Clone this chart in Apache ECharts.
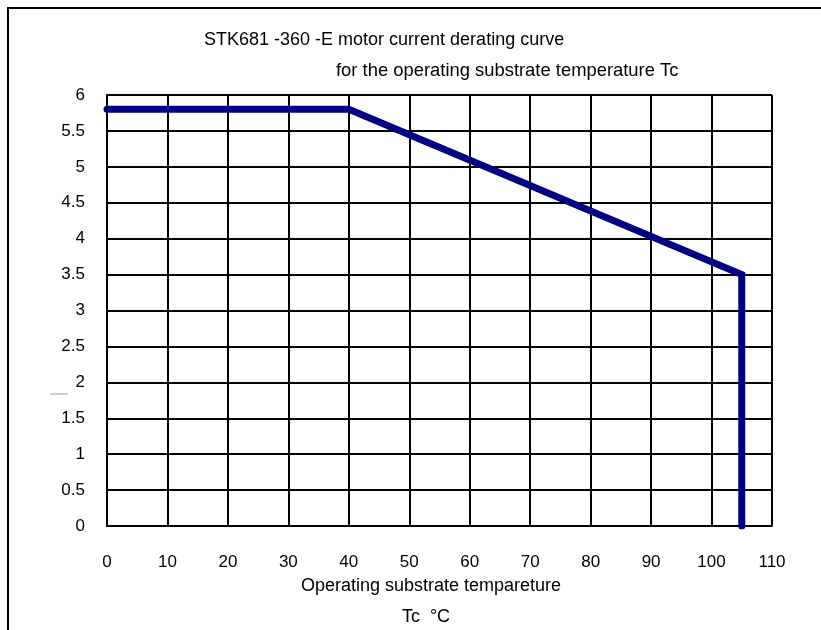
<!DOCTYPE html>
<html>
<head>
<meta charset="utf-8">
<script src="https://cdn.jsdelivr.net/npm/echarts@6/dist/echarts.min.js"></script>
<style>
  html, body { margin: 0; padding: 0; background: #fff; }
  #main { width: 821px; height: 630px; }
</style>
</head>
<body>
<div id="main"></div>
<script>
// derating curve: current (A) vs substrate temperature Tc (°C)
const tempPoints = [0, 40, 105, 105]
const currentPoints = [5.8, 5.8, 3.5, 0]

const titleLines = [
  'STK681 -360 -E motor current derating curve',
  'for the operating substrate temperature Tc'
]
const xName = 'Operating substrate tempareture'
const xUnit = 'Tc  °C'

const font = '"Liberation Sans", Arial, sans-serif'

const chart = echarts.init(document.getElementById('main'), null, { renderer: 'canvas' })

const lineData = tempPoints.map((t, i) => [t, currentPoints[i]])

const txt = (size) => ({ fontSize: size, fontWeight: 'normal', color: '#000', fontFamily: font })

const option = {
  backgroundColor: '#fff',
  animation: false,
  textStyle: { fontFamily: font },
  title: [
    { text: titleLines[0], left: 204, top: 31, padding: 0, textStyle: txt(18) },
    { text: titleLines[1], left: 336, top: 62, padding: 0, textStyle: txt(18.4) },
    { text: xName, left: 431, top: 577, padding: 0, textAlign: 'center', textStyle: txt(18) },
    { text: xUnit, left: 426, top: 608, padding: 0, textAlign: 'center', textStyle: txt(18) }
  ],
  grid: { left: 107, right: 49, top: 95, bottom: 104, containLabel: false },
  xAxis: {
    type: 'value',
    min: 0,
    max: 110,
    interval: 10,
    axisLine: { show: true, lineStyle: { color: '#000', width: 2 } },
    axisTick: { show: false },
    axisLabel: { color: '#000', fontSize: 17, margin: 28, fontFamily: font },
    splitLine: { show: true, lineStyle: { color: '#000', width: 2 } }
  },
  yAxis: {
    type: 'value',
    min: 0,
    max: 6,
    interval: 0.5,
    axisLine: { show: true, lineStyle: { color: '#000', width: 2 } },
    axisTick: { show: false },
    axisLabel: { color: '#000', fontSize: 17, margin: 22, fontFamily: font },
    splitLine: { show: true, lineStyle: { color: '#000', width: 2 } }
  },
  graphic: [
    { type: 'line', shape: { x1: 7, y1: 8, x2: 821, y2: 8 }, style: { stroke: '#000', lineWidth: 2 } },
    { type: 'line', shape: { x1: 8, y1: 7, x2: 8, y2: 630 }, style: { stroke: '#000', lineWidth: 2 } },
    { type: 'line', shape: { x1: 50, y1: 394, x2: 68, y2: 394 }, style: { stroke: '#999', lineWidth: 1 } }
  ],
  series: [
    {
      type: 'line',
      data: lineData,
      symbol: 'none',
      lineStyle: { color: '#000080', width: 7, cap: 'round', join: 'miter' }
    }
  ]
}

chart.setOption(option)
</script>
</body>
</html>
